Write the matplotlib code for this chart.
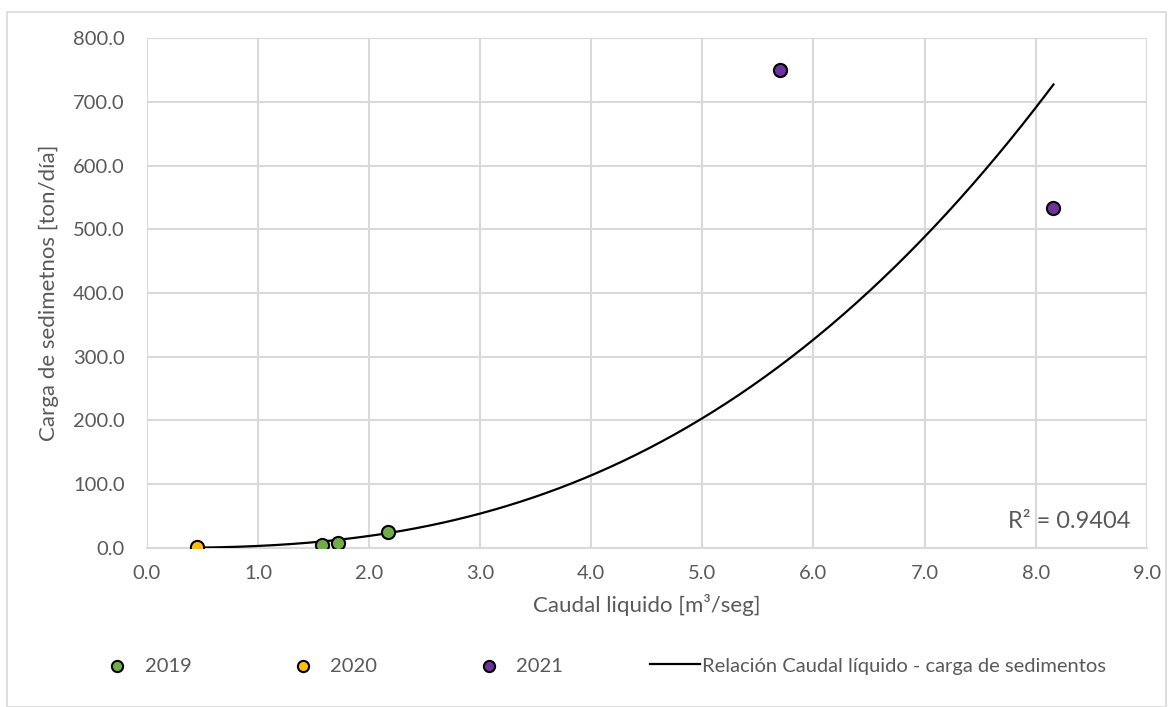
import numpy as np
import matplotlib
matplotlib.use('Agg')
from matplotlib import pyplot as plt
from matplotlib.patches import Rectangle

plt.rcParams['font.family'] = ['Lato', 'DejaVu Sans']

# datos
q2019 = [1.58, 1.72, 2.17]
c2019 = [5.0, 7.0, 25.0]
q2020 = [0.45]
c2020 = [1.0]
q2021 = [5.70, 8.16]
c2021 = [750.0, 534.0]

# linea de tendencia potencial (y = a * x^b)
coef_a = 3.1
coef_b = 2.6
r2_text = 'R² = 0.9404'

xticks = np.arange(0, 9.01, 1.0)
yticks = np.arange(0, 800.1, 100.0)

fig = plt.figure(figsize=(11.75, 7.07), dpi=100)
ax = fig.add_axes([0.125, 0.225, 0.851, 0.721])

gray = '#595959'
grid_c = '#d9d9d9'

ax.scatter(q2019, c2019, s=90, c='#70ad47', edgecolors='black', linewidths=1.5, zorder=4, label='2019')
ax.scatter(q2020, c2020, s=90, c='#ffc000', edgecolors='black', linewidths=1.5, zorder=4, label='2020')
ax.scatter(q2021, c2021, s=90, c='#7030a0', edgecolors='black', linewidths=1.5, zorder=4, label='2021')

allq = q2019 + q2020 + q2021
xs = np.linspace(min(allq), max(allq), 200)
ax.plot(xs, coef_a * xs ** coef_b, color='black', lw=1.6, zorder=3,
        label='Relación Caudal líquido - carga de sedimentos')

ax.set_xlim(0, 9)
ax.set_ylim(0, 800)
ax.set_xticks(xticks)
ax.set_yticks(yticks)
ax.set_xticklabels(['%.1f' % v for v in xticks])
ax.set_yticklabels(['%.1f' % v for v in yticks])
ax.grid(True, color=grid_c, lw=1.5)
ax.set_axisbelow(True)
for s in ['top', 'right', 'left']:
    ax.spines[s].set_visible(False)
ax.spines['bottom'].set_color(grid_c)
ax.spines['bottom'].set_linewidth(1.5)
ax.tick_params(length=0, colors=gray, labelsize=14.5)
ax.tick_params(axis='x', pad=12)
ax.tick_params(axis='y', pad=16)

ax.set_xlabel('Caudal liquido [m³/seg]', color=gray, fontsize=16, labelpad=9)
ax.set_ylabel('Carga de sedimetnos [ton/día]', color=gray, fontsize=16, labelpad=10)

ax.text(8.85, 41, r2_text, color=gray, fontsize=17, ha='right', va='center')

leg = fig.legend(loc='center', bbox_to_anchor=(0.51, 0.058), ncol=4, frameon=False,
                 fontsize=14.5, columnspacing=4.3, handlelength=2.5, handletextpad=0.1,
                 markerscale=0.85)
for t in leg.get_texts():
    t.set_color(gray)

fig.patches.append(Rectangle((0.006, 0.0), 0.986, 0.983, transform=fig.transFigure,
                             fill=False, edgecolor='#d9d9d9', lw=1.2))

fig.savefig('out.png', dpi=100)
